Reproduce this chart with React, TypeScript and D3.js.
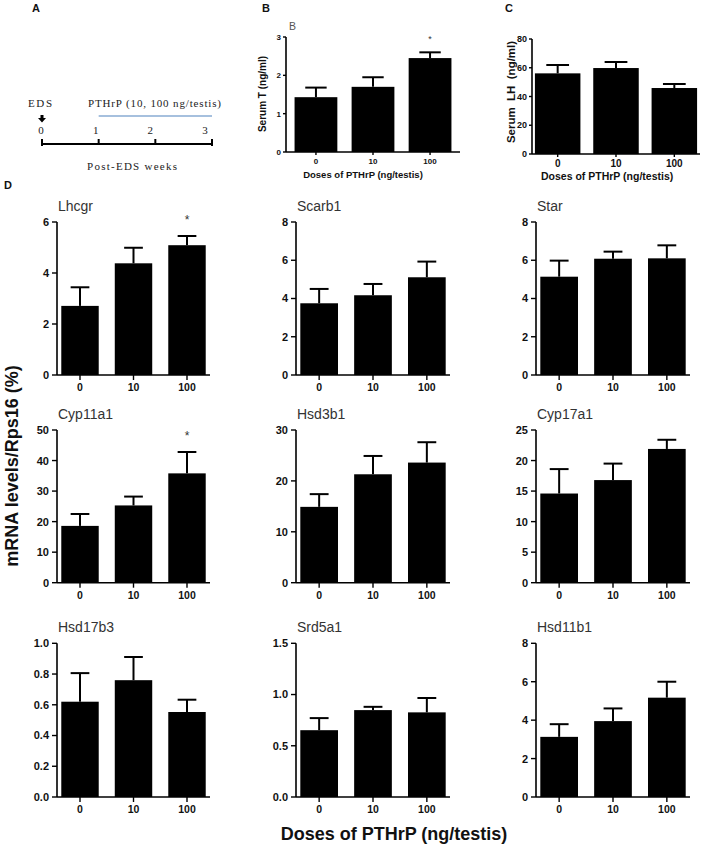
import React from "react";
import * as d3 from "d3";

// ---------- data ----------
const doses = ["0", "10", "100"];

const serumT = [1.43, 1.7, 2.45];
const serumTSem = [0.25, 0.25, 0.15];
const serumTStar = ["100"];
const serumTTicks = [0, 1, 2, 3];

const serumLH = [56.1, 59.8, 45.9];
const serumLHSem = [5.8, 4.2, 2.8];
const serumLHTicks = [0, 20, 40, 60, 80];

const geneNames = ["Lhcgr", "Scarb1", "Star", "Cyp11a1", "Hsd3b1", "Cyp17a1", "Hsd17b3", "Srd5a1", "Hsd11b1"];
const geneMeans = [
  [2.71, 4.38, 5.09],
  [3.75, 4.17, 5.11],
  [5.14, 6.08, 6.1],
  [18.6, 25.3, 35.8],
  [14.9, 21.3, 23.6],
  [14.6, 16.8, 21.9],
  [0.62, 0.76, 0.553],
  [0.652, 0.848, 0.826],
  [3.13, 3.95, 5.17],
];
const geneSems = [
  [0.73, 0.61, 0.36],
  [0.75, 0.59, 0.82],
  [0.84, 0.37, 0.68],
  [3.9, 2.9, 7.0],
  [2.5, 3.6, 4.0],
  [4.0, 2.7, 1.5],
  [0.186, 0.151, 0.08],
  [0.118, 0.032, 0.14],
  [0.66, 0.66, 0.83],
];
const geneYMax = [6, 8, 8, 50, 30, 25, 1.0, 1.5, 8];
const geneYStep = [2, 2, 2, 10, 10, 5, 0.2, 0.5, 2];
const geneTickFormat = ["d", "d", "d", "d", "d", "d", ".1f", ".1f", "d"];
const geneStars = [["100"], [], [], ["100"], [], [], [], [], []];

const timelineWeeks = [0, 1, 2, 3];
const pthrpWeeks = [1, 3];

// ---------- helpers ----------
const SANS = "'Liberation Sans', Arial, Helvetica, sans-serif";
const SERIF = "'Liberation Serif', 'DejaVu Serif', serif";

type BarProps = {
  left: number;
  right: number;
  top: number;
  bottom: number;
  values: number[];
  sems: number[];
  yMax: number;
  ticks: number[];
  fmt: (v: number) => string;
  stars: string[];
  yFont: number;
  xFont: number;
  tickLen: number;
  yLabelGap: number;
  xLabelDy: number;
  pInner: number;
  pOuter: number;
  starFont: number;
  starDy: number;
};

function BarChart(p: BarProps) {
  const x = d3.scaleBand<string>().domain(doses).range([p.left, p.right]).paddingInner(p.pInner).paddingOuter(p.pOuter);
  const y = d3.scaleLinear().domain([0, p.yMax]).range([p.bottom, p.top]);
  const bw = x.bandwidth();
  return (
    <g>
      {doses.map((d, i) => {
        const v = p.values[i];
        const e = p.sems[i];
        const cx = (x(d) as number) + bw / 2;
        return (
          <g key={d}>
            <line x1={cx} x2={cx} y1={y(v)} y2={y(v + e)} stroke="#000" strokeWidth={2} />
            <line x1={cx - bw / 4} x2={cx + bw / 4} y1={y(v + e)} y2={y(v + e)} stroke="#000" strokeWidth={2} />
            <rect x={x(d)} y={y(v)} width={bw} height={p.bottom - y(v)} fill="#000" />
            {p.stars.includes(d) && (
              <text x={cx} y={y(v + e) - p.starDy} textAnchor="middle" fontFamily={SANS} fontSize={p.starFont} fill="#333">
                *
              </text>
            )}
          </g>
        );
      })}
      <line x1={p.left} x2={p.left} y1={p.top} y2={p.bottom} stroke="#000" strokeWidth={1.6} />
      <line x1={p.left} x2={p.right} y1={p.bottom} y2={p.bottom} stroke="#000" strokeWidth={1.6} />
      {p.ticks.map((t) => (
        <g key={t}>
          <line x1={p.left - p.tickLen} x2={p.left} y1={y(t)} y2={y(t)} stroke="#000" strokeWidth={1.4} />
          <text x={p.left - p.tickLen - p.yLabelGap} y={y(t)} dy="0.36em" textAnchor="end" fontFamily={SANS} fontWeight="bold" fontSize={p.yFont} fill="#111">
            {p.fmt(t)}
          </text>
        </g>
      ))}
      {doses.map((d) => {
        const cx = (x(d) as number) + bw / 2;
        return (
          <g key={"x" + d}>
            <line x1={cx} x2={cx} y1={p.bottom} y2={p.bottom + p.tickLen} stroke="#000" strokeWidth={1.4} />
            <text x={cx} y={p.bottom + p.xLabelDy} textAnchor="middle" fontFamily={SANS} fontWeight="bold" fontSize={p.xFont} fill="#111">
              {d}
            </text>
          </g>
        );
      })}
    </g>
  );
}

function Timeline() {
  const tx = d3.scaleLinear().domain([0, 3]).range([42, 212]);
  const lx = d3.scaleLinear().domain([0, 3]).range([41, 205]);
  const axisY = 144;
  return (
    <g fontFamily={SERIF} fill="#222">
      <text x={28} y={107} fontSize={11} textLength={24} lengthAdjust="spacing">EDS</text>
      <text x={88} y={107} fontSize={11} textLength={133} lengthAdjust="spacing">PTHrP (10, 100 ng/testis)</text>
      <path
        d={`M${tx(0) - 1.5},115 L${tx(0) + 1.5},115 L${tx(0) + 1.5},118 L${tx(0) + 4},118 L${tx(0)},122.5 L${tx(0) - 4},118 L${tx(0) - 1.5},118 Z`}
        fill="#000"
      />
      <line x1={tx(pthrpWeeks[0])} x2={tx(pthrpWeeks[1])} y1={116} y2={116} stroke="#4f81bd" strokeWidth={1.2} />
      {timelineWeeks.map((w) => (
        <text key={w} x={lx(w)} y={134} fontSize={11} textAnchor="middle">
          {w}
        </text>
      ))}
      <line x1={tx(0)} x2={tx(3)} y1={axisY} y2={axisY} stroke="#000" strokeWidth={2.2} />
      {timelineWeeks.map((w) => (
        <line key={"t" + w} x1={tx(w)} x2={tx(w)} y1={axisY - 5} y2={w === 0 || w === 3 ? axisY + 2 : axisY} stroke="#000" strokeWidth={2} />
      ))}
      <text x={87} y={170} fontSize={11} textLength={90} lengthAdjust="spacing">Post-EDS weeks</text>
    </g>
  );
}

export default function App() {
  const colLeft = [57, 296, 536];
  const colRight = [210, 450, 690];
  const rowTop = [222, 430, 643.3];
  const rowBottom = [375, 582.7, 797];

  return (
    <svg width={708} height={845} style={{ display: "block", position: "absolute", left: 0, top: 0, background: "#fff" }}>
      <rect x={0} y={0} width={708} height={845} fill="#fff" />
      {/* Panel letters */}
      <text x={32} y={12} fontFamily={SANS} fontWeight="bold" fontSize={11} fill="#111">A</text>
      <text x={262} y={12} fontFamily={SANS} fontWeight="bold" fontSize={11} fill="#111">B</text>
      <text x={505} y={12} fontFamily={SANS} fontWeight="bold" fontSize={11} fill="#111">C</text>
      <text x={4} y={189} fontFamily={SANS} fontWeight="bold" fontSize={11} fill="#111">D</text>

      <Timeline />

      {/* Panel B */}
      <text x={289} y={30} fontFamily={SANS} fontSize={10.5} fill="#555">B</text>
      <BarChart
        left={286}
        right={460}
        top={37}
        bottom={152}
        values={serumT}
        sems={serumTSem}
        yMax={3}
        ticks={serumTTicks}
        fmt={d3.format("d")}
        stars={serumTStar}
        yFont={8}
        xFont={8}
        tickLen={3}
        yLabelGap={2}
        xLabelDy={12}
        pInner={0.25}
        pOuter={0.15}
        starFont={9}
        starDy={10}
      />
      <text transform="translate(266,94) rotate(-90)" textAnchor="middle" fontFamily={SANS} fontWeight="bold" fontSize={10} fill="#111">
        Serum T (ng/ml)
      </text>
      <text x={363} y={178} textAnchor="middle" fontFamily={SANS} fontWeight="bold" fontSize={9.5} fill="#111">
        Doses of PTHrP (ng/testis)
      </text>

      {/* Panel C */}
      <BarChart
        left={532}
        right={700}
        top={39}
        bottom={154}
        values={serumLH}
        sems={serumLHSem}
        yMax={80}
        ticks={serumLHTicks}
        fmt={d3.format("d")}
        stars={[]}
        yFont={9}
        xFont={10}
        tickLen={3}
        yLabelGap={2}
        xLabelDy={13}
        pInner={0.22}
        pOuter={0.05}
        starFont={9}
        starDy={10}
      />
      <text transform="translate(515,92) rotate(-90)" textAnchor="middle" fontFamily={SANS} fontWeight="bold" fontSize={11.5} fill="#111" style={{ whiteSpace: "pre" }}>
        {"Serum  LH  (ng/ml)"}
      </text>
      <text x={541} y={180} fontFamily={SANS} fontWeight="bold" fontSize={10.5} fill="#111">
        Doses of PTHrP (ng/testis)
      </text>

      {/* Panel D */}
      {geneNames.map((g, i) => {
        const c = i % 3;
        const r = Math.floor(i / 3);
        const ticks = d3.range(0, geneYMax[i] + geneYStep[i] / 2, geneYStep[i]);
        return (
          <g key={g}>
            <text x={colLeft[c] + 1} y={rowTop[r] - 11} fontFamily={SANS} fontSize={14} fill="#333">
              {g}
            </text>
            <BarChart
              left={colLeft[c]}
              right={colRight[c]}
              top={rowTop[r]}
              bottom={rowBottom[r]}
              values={geneMeans[i]}
              sems={geneSems[i]}
              yMax={geneYMax[i]}
              ticks={ticks}
              fmt={d3.format(geneTickFormat[i])}
              stars={geneStars[i]}
              yFont={11}
              xFont={10.5}
              tickLen={5}
              yLabelGap={3}
              xLabelDy={16}
              pInner={0.3}
              pOuter={0.08}
              starFont={12}
              starDy={12}
            />
          </g>
        );
      })}
      <text transform="translate(18,466) rotate(-90)" textAnchor="middle" fontFamily={SANS} fontWeight="bold" fontSize={18} fill="#111">
        mRNA levels/Rps16 (%)
      </text>
      <text x={394} y={840} textAnchor="middle" fontFamily={SANS} fontWeight="bold" fontSize={18} fill="#111">
        Doses of PTHrP (ng/testis)
      </text>
    </svg>
  );
}
